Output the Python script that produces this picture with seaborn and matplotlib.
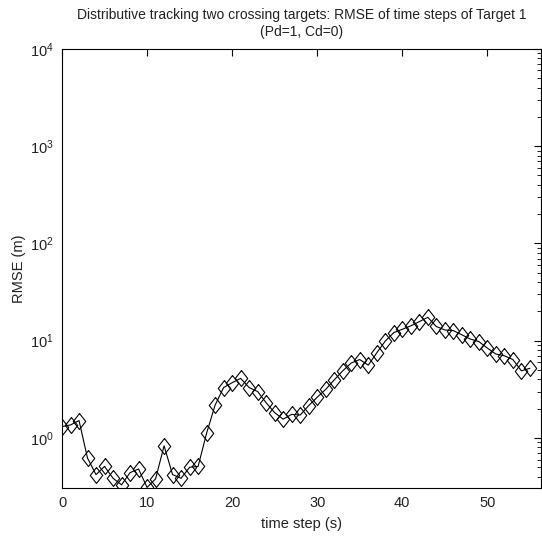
import numpy as np
import pandas as pd
import matplotlib
matplotlib.use("Agg")
import matplotlib.pyplot as plt
import seaborn as sns
from matplotlib.ticker import LogLocator, NullFormatter, MultipleLocator

# RMSE of target 1 per time step
time_step = list(range(0, 56))
rmse = [1.31, 1.36, 1.51, 0.62, 0.42, 0.51, 0.385, 0.33, 0.44, 0.48,
        0.31, 0.38, 0.83, 0.42, 0.385, 0.50, 0.51, 1.12, 2.18, 3.3,
        3.7, 4.1, 3.3, 3.0, 2.3, 1.82, 1.56, 1.75, 1.72, 2.15,
        2.62, 3.16, 3.95, 4.9, 5.9, 6.4, 5.6, 7.5, 9.9, 12.1,
        13.1, 14.2, 15.7, 17.4, 14.0, 12.9, 12.7, 11.5, 10.4, 9.8,
        8.4, 7.3, 7.0, 6.4, 4.9, 5.2]

title_lines = ["Distributive tracking two crossing targets: RMSE of time steps of Target 1",
               "(Pd=1, Cd=0)"]
x_label = "time step (s)"
y_label = "RMSE (m)"

df = pd.DataFrame({"t": time_step, "rmse": rmse})

sns.set_style("white")
plt.rcParams["font.family"] = ["Liberation Sans", "DejaVu Sans"]
plt.rcParams["mathtext.fontset"] = "custom"
plt.rcParams["mathtext.rm"] = "Liberation Sans"

text_color = "#222222"

fig = plt.figure(figsize=(5.42, 5.41), dpi=100)
ax = fig.add_axes([0.1144, 0.098, 0.8836, 0.8116])

diamond = [(0, 1), (0.78, 0), (0, -1), (-0.78, 0), (0, 1)]
sns.lineplot(data=df, x="t", y="rmse", ax=ax, color="black", linewidth=0.8,
             marker=diamond, markersize=11.5, markerfacecolor="none",
             markeredgecolor="black", markeredgewidth=0.8)

ax.set_yscale("log")
ax.set_ylim(0.306, 1e4)
ax.set_xlim(0, 56.3)
ax.xaxis.set_major_locator(MultipleLocator(10))
ax.yaxis.set_major_locator(LogLocator(base=10, numticks=10))
ax.yaxis.set_minor_locator(LogLocator(base=10, subs=np.arange(2, 10), numticks=20))
ax.yaxis.set_minor_formatter(NullFormatter())

ax.tick_params(which="both", direction="in", top=True, right=True,
               labelsize=10.5, colors="black", labelcolor=text_color, pad=6)
ax.tick_params(which="major", length=5, width=0.8)
ax.tick_params(which="minor", length=3, width=0.6)
for s in ax.spines.values():
    s.set_linewidth(0.8)
    s.set_color("black")

ax.set_xlabel(x_label, fontsize=10.5, labelpad=5, color=text_color)
ax.set_ylabel(y_label, fontsize=10.5, labelpad=3, color=text_color)
ax.set_title("\n".join(title_lines), fontsize=10, pad=9, linespacing=1.3,
             color=text_color)

fig.savefig("out.png", dpi=100, facecolor="white")
